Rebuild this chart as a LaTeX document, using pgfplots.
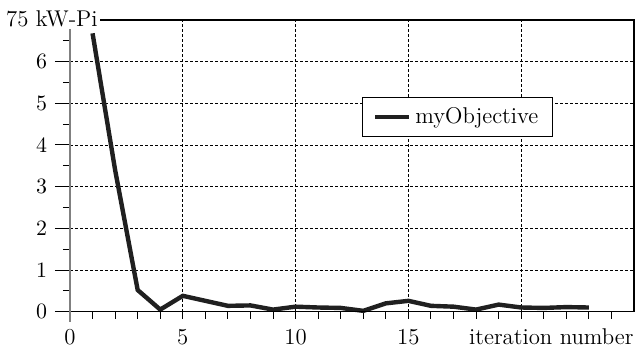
\documentclass[border=0pt]{standalone}
\usepackage{pgfplots}
\pgfplotsset{compat=1.18}
\definecolor{lc}{HTML}{202020}
\begin{document}
\fontsize{11.4}{13.5}\selectfont
\begin{tikzpicture}
\begin{axis}[
  scale only axis, width=282pt, height=145.85pt,
  xmin=0, xmax=25, ymin=0, ymax=7,
  clip=false,
  axis line style={draw=none},
  xtick={0,5,10,15,20}, xticklabels={0,5,10,15,},
  minor xtick={1,...,24},
  ytick={0,...,6}, minor ytick={0.5,1.5,...,6.5},
  tick pos=left, tick align=outside,
  major tick length=7.5pt, minor tick length=3.5pt,
  major x tick style={draw=none},
  tick style={black, line width=0.5pt},
  grid=major,
  major grid style={black, line width=0.4pt, dash pattern=on 1.5pt off 1pt},
  xticklabel style={anchor=base, yshift=-9pt},
  legend style={at={(axis cs:21.4,5.16)}, anchor=north east, draw=black, line width=0.6pt, inner xsep=5pt, inner ysep=3pt, font=\fontsize{11.4}{13.5}\selectfont},
  legend cell align=left,
]
\addplot[line width=2.2pt, color=lc] coordinates {
(1,6.68) (2,3.4) (3,0.52) (4,0.05) (5,0.38) (6,0.26) (7,0.14) (8,0.15)
(9,0.05) (10,0.12) (11,0.10) (12,0.09) (13,0.02) (14,0.20) (15,0.26)
(16,0.14) (17,0.12) (18,0.05) (19,0.17) (20,0.10) (21,0.09) (22,0.11) (23,0.10)
};
\addlegendentry{myObjective}
\draw[line width=0.8pt, black] (rel axis cs:0,0) -- (rel axis cs:1,0) -- (rel axis cs:1,1) -- ([xshift=15pt]rel axis cs:0,1);
\draw[line width=0.6pt, gray] ([yshift=-5pt]rel axis cs:0,0) -- (rel axis cs:0,1);
\node[anchor=base east, inner sep=1pt, fill=white] at ([xshift=15pt,yshift=-3.5pt]rel axis cs:0,1) {75 kW-Pi};
\node[anchor=base east, inner sep=0pt] at ([yshift=-16.2pt]rel axis cs:1,0) {iteration number};
\end{axis}
\pgfresetboundingbox
\path[use as bounding box] ([xshift=-35pt,yshift=-17.15pt]current axis.south west) rectangle ([xshift=1pt,yshift=10pt]current axis.north east);
\end{tikzpicture}
\end{document}
